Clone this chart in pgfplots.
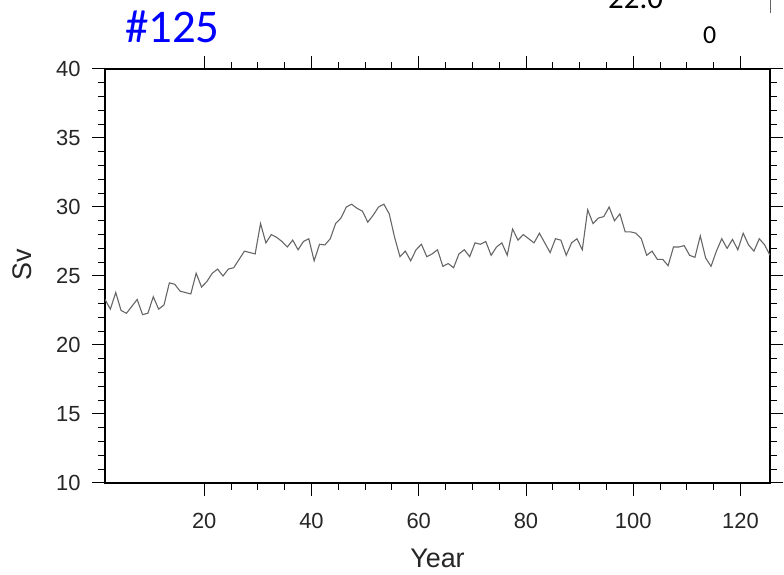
\documentclass[border=0pt]{standalone}
\usepackage{pgfplots}
\pgfplotsset{compat=1.18}
\usepackage{fontspec}
\setmainfont{Liberation Sans}
\newfontfamily\carlito{Carlito}
\begin{document}
\begin{tikzpicture}[x=1bp,y=1bp]
\clip (0,0) rectangle (784,575);
\begin{axis}[
  at={(105bp,92bp)}, anchor=south west,
  width=665bp, height=414bp, scale only axis,
  xmin=1.5, xmax=125.5, ymin=10, ymax=40,
  xtick={20,40,...,120}, ytick={10,15,...,40},
  minor x tick num=3, minor y tick num=4,
  tick align=outside,
  major tick length=13bp, minor tick length=7bp,
  every tick/.style={black, line width=1bp},
  axis line style={line width=1.3bp},
  xticklabel pos=lower, yticklabel pos=left,
  /pgf/number format/assume math mode=true,
  ticklabel style={font=\fontsize{22}{26}\selectfont, text=black!85},
  yticklabel style={xshift=-8bp},
  xticklabel style={yshift=-14bp},
]
\addplot[black!60, line width=1.1bp, mark=none] coordinates {
(1.5,23.3) (2.5,22.6) (3.5,23.8) (4.5,22.5) (5.5,22.3) (6.5,22.8) (7.5,23.3) (8.5,22.2) (9.5,22.3) (10.5,23.5)
(11.5,22.6) (12.5,22.9) (13.5,24.5) (14.5,24.4) (15.5,23.9) (16.5,23.8) (17.5,23.7) (18.5,25.2) (19.5,24.2) (20.5,24.6)
(21.5,25.2) (22.5,25.5) (23.5,25.0) (24.5,25.5) (25.5,25.6) (26.5,26.2) (27.5,26.8) (28.5,26.7) (29.5,26.6) (30.5,28.8)
(31.5,27.4) (32.5,28.0) (33.5,27.8) (34.5,27.5) (35.5,27.1) (36.5,27.6) (37.5,26.9) (38.5,27.5) (39.5,27.7) (40.5,26.1)
(41.5,27.3) (42.5,27.25) (43.5,27.7) (44.5,28.8) (45.5,29.2) (46.5,30.0) (47.5,30.2) (48.5,29.9) (49.5,29.7) (50.5,28.9)
(51.5,29.4) (52.5,30.0) (53.5,30.2) (54.5,29.5) (55.5,27.8) (56.5,26.4) (57.5,26.8) (58.5,26.1) (59.5,26.9) (60.5,27.3)
(61.5,26.4) (62.5,26.6) (63.5,26.9) (64.5,25.7) (65.5,25.9) (66.5,25.6) (67.5,26.6) (68.5,26.9) (69.5,26.4) (70.5,27.4)
(71.5,27.3) (72.5,27.5) (73.5,26.5) (74.5,27.1) (75.5,27.4) (76.5,26.5) (77.5,28.4) (78.5,27.6) (79.5,28.0) (80.5,27.7)
(81.5,27.4) (82.5,28.1) (83.5,27.4) (84.5,26.7) (85.5,27.7) (86.5,27.6) (87.5,26.5) (88.5,27.4) (89.5,27.7) (90.5,26.9)
(91.5,29.8) (92.5,28.8) (93.5,29.2) (94.5,29.3) (95.5,30.0) (96.5,29.0) (97.5,29.5) (98.5,28.2) (99.5,28.2) (100.5,28.1)
(101.5,27.7) (102.5,26.5) (103.5,26.8) (104.5,26.2) (105.5,26.2) (106.5,25.75) (107.5,27.1) (108.5,27.1) (109.5,27.2) (110.5,26.5)
(111.5,26.35) (112.5,27.9) (113.5,26.3) (114.5,25.7) (115.5,26.8) (116.5,27.7) (117.5,27.0) (118.5,27.65) (119.5,26.9) (120.5,28.1)
(121.5,27.25) (122.5,26.8) (123.5,27.7) (124.5,27.25) (125.5,26.5)
};
\end{axis}
\node[anchor=base, font=\fontsize{27}{32}\selectfont, text=black!85] at (437.5,7) {Year};
\node[rotate=90, font=\fontsize{27}{32}\selectfont, text=black!85] at (22,310) {Sv};
\node[anchor=base west, inner sep=0pt, font=\carlito\fontsize{47}{54}\selectfont, text=blue] at (125,532) {\#125};
\node[anchor=base west, inner sep=0pt, font=\carlito\fontsize{26}{30}\selectfont] at (703,531) {0};
\node[anchor=base west, inner sep=0pt, font=\carlito\fontsize{31}{36}\selectfont] at (608,566) {22.0};
\draw[black!60, line width=1bp] (770,575) -- (770,562);
\end{tikzpicture}
\end{document}
